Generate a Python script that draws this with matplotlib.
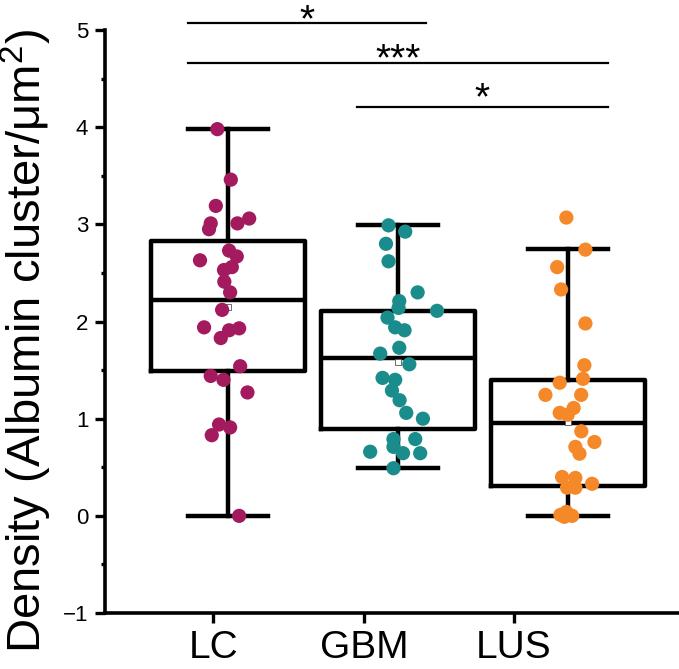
import numpy as np
import matplotlib
matplotlib.use("Agg")
import matplotlib.pyplot as plt

plt.rcParams["font.family"] = ["Liberation Sans", "DejaVu Sans"]
plt.rcParams["mathtext.fontset"] = "custom"
plt.rcParams["mathtext.rm"] = "Liberation Sans"
plt.rcParams["mathtext.it"] = "Liberation Sans"

# groups
grupos = ["LC", "GBM", "LUS"]
colores = ["#A31A5E", "#1B8C8C", "#F5892A"]
posiciones = [1, 2, 3]
ticks_x = [0.912, 1.80, 2.68]   # tick marks sit left of the boxes in the original

# box statistics
bigote_inf = [0.0, 0.49, 0.0]
q1 = [1.49, 0.895, 0.31]
mediana = [2.22, 1.62, 0.96]
q3 = [2.83, 2.11, 1.40]
bigote_sup = [3.98, 2.99, 2.75]
media = [2.15, 1.58, 0.97]

# individual points (x jitter, y value)
lc_x = [0.937, 1.016, 0.928, 0.898, 0.888, 1.055, 1.124, 1.006, 1.051, 0.835,
        1.022, 0.976, 0.978, 1.012, 0.965, 0.859, 1.006, 1.065, 0.957, 1.071,
        0.898, 0.973, 1.114, 0.947, 1.012, 0.904, 1.065]
lc_y = [3.98, 3.46, 3.19, 3.01, 2.95, 3.01, 3.06, 2.73, 2.67, 2.63,
        2.56, 2.53, 2.41, 2.30, 2.12, 1.94, 1.91, 1.93, 1.83, 1.54,
        1.44, 1.40, 1.27, 0.94, 0.91, 0.83, 0.0]

gbm_x = [1.943, 2.041, 1.928, 1.943, 2.114, 2.006, 2.228, 2.002, 1.937, 1.982,
         2.037, 2.006, 1.894, 2.065, 1.908, 1.982, 1.963, 2.008, 2.047, 2.145,
         1.972, 2.100, 1.972, 1.835, 2.028, 2.129, 1.972]
gbm_y = [2.99, 2.925, 2.80, 2.62, 2.30, 2.21, 2.11, 2.14, 2.04, 1.94,
         1.91, 1.73, 1.67, 1.56, 1.42, 1.40, 1.29, 1.19, 1.06, 1.00,
         0.79, 0.79, 0.71, 0.66, 0.645, 0.645, 0.49]

lus_x = [2.988, 3.100, 2.934, 2.957, 3.100, 3.094, 3.086, 2.949, 2.865, 3.075,
         3.031, 2.949, 2.996, 3.076, 3.153, 3.041, 3.065, 2.963, 3.041, 3.139,
         2.992, 3.041, 2.953, 2.988, 3.022, 2.976]
lus_y = [3.07, 2.74, 2.56, 2.33, 1.98, 1.55, 1.41, 1.37, 1.245, 1.245,
         1.11, 1.06, 1.04, 0.87, 0.76, 0.71, 0.64, 0.40, 0.39, 0.33,
         0.29, 0.29, 0.01, 0.04, 0.0, -0.01]

puntos_x = [lc_x, gbm_x, lus_x]
puntos_y = [lc_y, gbm_y, lus_y]

# significance brackets: x start, x end, line y, label, label baseline y
sig_x0 = [0.765, 0.765, 1.76]
sig_x1 = [2.165, 3.23, 3.23]
sig_y = [5.07, 4.66, 4.21]
sig_txt = ["*", "***", "*"]
sig_txt_y = [4.99, 4.59, 4.18]

fig = plt.figure(figsize=(6.79, 6.69), dpi=100)
ax = fig.add_axes([0.1546, 0.0837, 0.8454, 0.8714])

stats = []
for i in range(3):
    stats.append({"whislo": bigote_inf[i], "q1": q1[i], "med": mediana[i],
                  "q3": q3[i], "whishi": bigote_sup[i], "mean": media[i],
                  "fliers": []})

lw = 3.2
ax.bxp(stats, positions=posiciones, widths=0.905, capwidths=0.47,
       showmeans=True, showfliers=False,
       boxprops=dict(color="black", linewidth=lw),
       medianprops=dict(color="black", linewidth=lw),
       whiskerprops=dict(color="black", linewidth=lw),
       capprops=dict(color="black", linewidth=lw),
       meanprops=dict(marker="s", markersize=4, markerfacecolor="white",
                      markeredgecolor="#555555", markeredgewidth=0.6))

for i in range(3):
    ax.scatter(puntos_x[i], puntos_y[i], s=105, color=colores[i],
               edgecolors="none", zorder=5, clip_on=False)

for x0, x1, y, t, ty in zip(sig_x0, sig_x1, sig_y, sig_txt, sig_txt_y):
    ax.plot([x0, x1], [y, y], color="black", linewidth=1.6, clip_on=False)
    ax.text((x0 + x1) / 2, ty, t, ha="center", va="baseline",
            fontsize=28, clip_on=False)

ax.set_xlim(0.2765, 3.65)
ax.set_ylim(-1, 5)
ax.set_yticks([-1, 0, 1, 2, 3, 4, 5])
ax.set_yticks(np.arange(-0.5, 5, 1.0), minor=True)
ax.set_yticklabels(["\u22121", "0", "1", "2", "3", "4", "5"])
ax.set_xticks(ticks_x)
ax.set_xticklabels(grupos)

ax.spines["top"].set_visible(False)
ax.spines["right"].set_visible(False)
ax.spines["left"].set_linewidth(2.6)
ax.spines["bottom"].set_linewidth(2.6)

ax.tick_params(axis="y", which="major", direction="out", length=7, width=2.4,
               labelsize=16, pad=5)
ax.tick_params(axis="y", which="minor", direction="out", length=3, width=2.4)
ax.tick_params(axis="x", which="major", direction="out", length=7, width=2.4,
               labelsize=28, pad=5)

ax.set_ylabel("Density (Albumin cluster/\u03bcm$^{2}$)", fontsize=34)
ax.yaxis.set_label_coords(-0.088, 0.467)

fig.savefig("out.png", dpi=100)
plt.close(fig)
